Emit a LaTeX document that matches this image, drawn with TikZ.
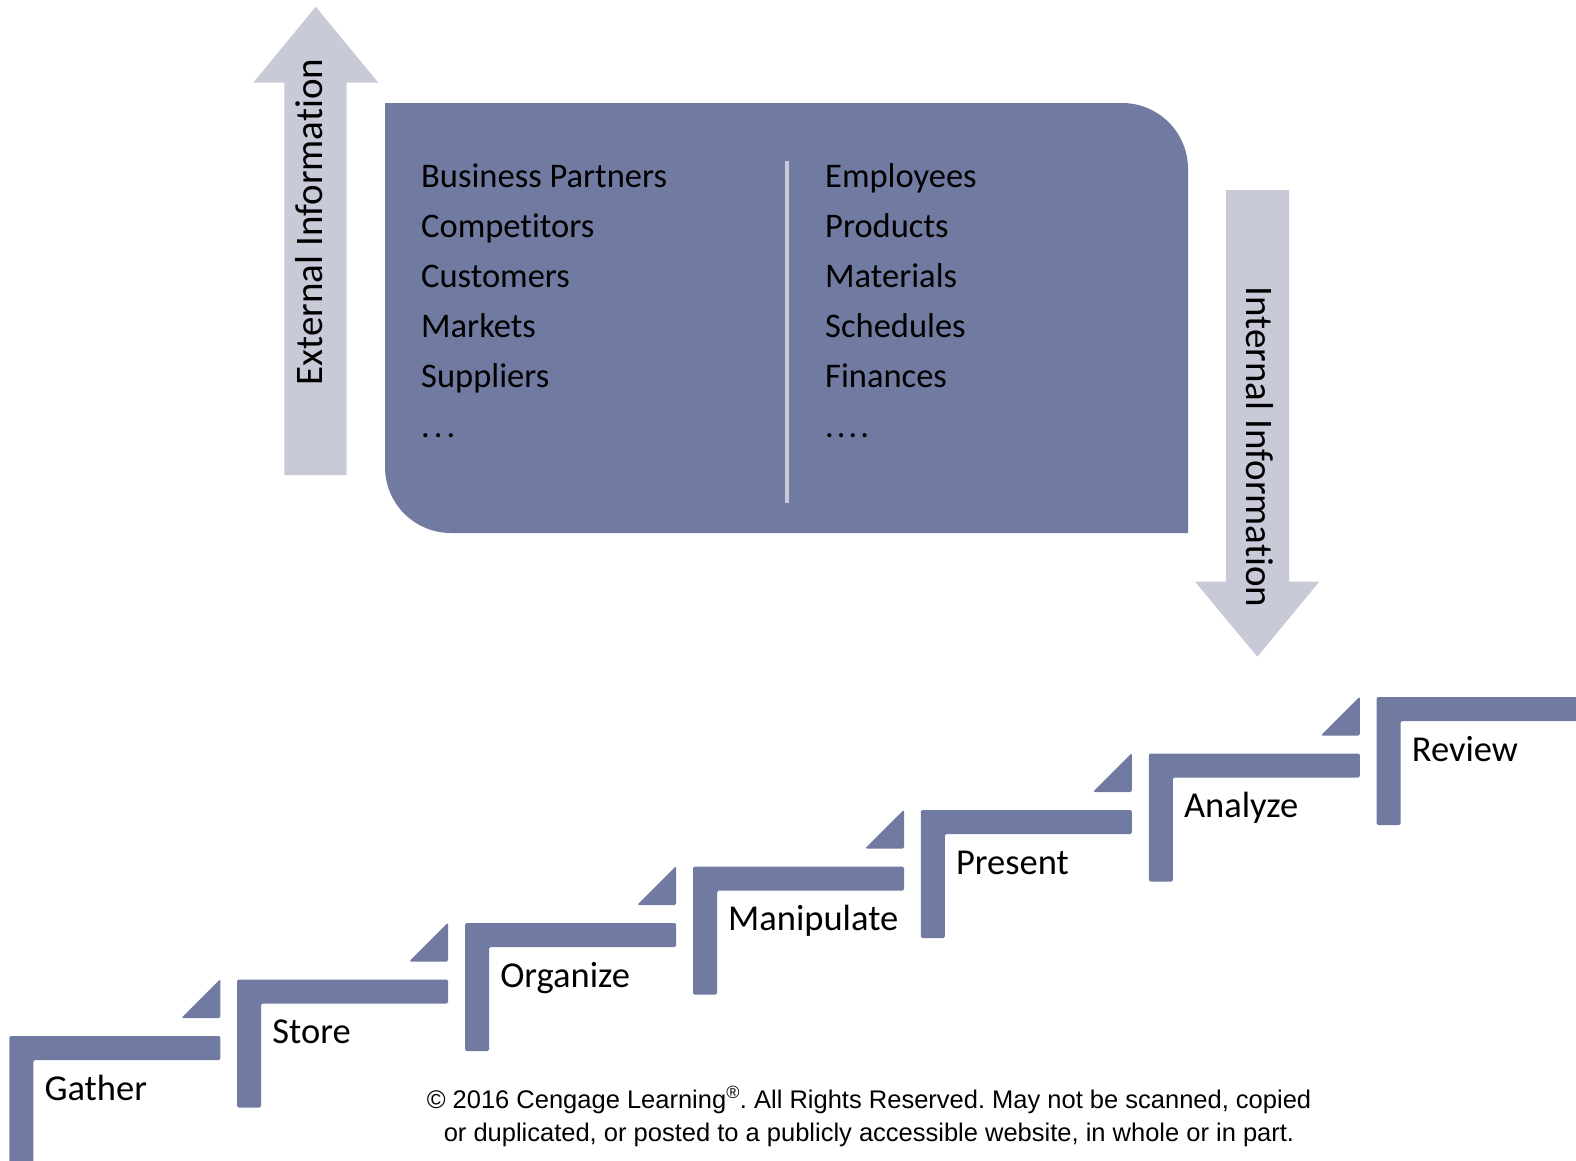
\documentclass[tikz,border=0pt]{standalone}
\usepackage{fontspec}
\setmainfont{Carlito}[Ligatures=NoCommon]
\newfontfamily\notefont{Liberation Sans}
\usepackage{xcolor}
\frenchspacing

\definecolor{slate}{RGB}{113,122,160}
\definecolor{haze}{RGB}{200,202,216}

\begin{document}
\begin{tikzpicture}[x=1pt,y=-1pt,
  item/.style={anchor=base west,inner sep=0pt,font=\fontsize{34.5}{40}\selectfont},
  steplabel/.style={anchor=base west,inner sep=0pt,font=\fontsize{36.5}{42}\selectfont},
  flowtext/.style={anchor=base,inner sep=0pt,font=\fontsize{39}{44}\selectfont},
  note/.style={anchor=base,inner sep=0pt,font=\notefont\fontsize{25.5}{30}\selectfont}]
\useasboundingbox (0,0) rectangle (1576,1160);

% information box
\fill[slate] (385,103) -- (1122,103) .. controls (1158.5,103) and (1188,132.5) .. (1188,169)
  -- (1188,533) -- (451,533) .. controls (414.5,533) and (385,503.5) .. (385,467) -- cycle;
\draw[haze,line width=4pt] (786.7,161) -- (786.7,503);

\foreach \txt [count=\k from 0] in {Business Partners,Competitors,Customers,Markets,Suppliers}
  \node[item] (ext-\k) at (421,187+50*\k) {\txt};
\node[item] (ext-dots) at (421,437) {.\kern4pt.\kern4pt.};

\foreach \txt [count=\k from 0] in {Employees,Products,Materials,Schedules,Finances}
  \node[item] (int-\k) at (825,187+50*\k) {\txt};
\node[item] (int-dots) at (825,437) {.\kern3pt.\kern3pt.\kern3pt.};

% arrows
\fill[haze] (284.3,475) -- (284.3,82.7) -- (253.3,82.7) -- (315.7,6.7) -- (378.3,82.7)
  -- (346.7,82.7) -- (346.7,475) -- cycle;
\node[flowtext,rotate=90] (external) at (322,222) {External Information};

\fill[haze] (1226,190) -- (1226,581.7) -- (1195,581.7) -- (1257.3,656.7) -- (1319.3,581.7)
  -- (1289,581.7) -- (1289,190) -- cycle;
\node[flowtext,rotate=-90] (internal) at (1246,447) {Internal Information};

% stairs
\foreach \lbl [count=\i from 0] in {Gather,Store,Organize,Manipulate,Present,Analyze,Review}{
  \pgfmathsetmacro{\sx}{9.3+227.9*\i}
  \pgfmathsetmacro{\sy}{1036-56.5*\i}
  \pgfmathsetmacro{\ex}{\i==6 ? 1580 : \sx+211}
  \pgfmathsetmacro{\ey}{\i==0 ? 1164 : \sy+128}
  \fill[slate,rounded corners=1.5pt] (\sx,\ey) -- (\sx,\sy) -- (\ex,\sy) -- (\ex,\sy+24)
    -- (\sx+24,\sy+24) -- (\sx+24,\ey) -- cycle;
  \ifnum\i<6
    \fill[slate,rounded corners=1.5pt] (\sx+172,\sy-18) -- (\sx+211,\sy-57) -- (\sx+211,\sy-18) -- cycle;
  \fi
  \node[steplabel] (\lbl) at (\sx+35,\sy+64) {\lbl};
}

\node[note] (copy-1) at (869,1108) {© 2016 Cengage Learning\textsuperscript{®}. All Rights Reserved. May not be scanned, copied};
\node[note] (copy-2) at (869,1141) {or duplicated, or posted to a publicly accessible website, in whole or in part.};
\end{tikzpicture}
\end{document}
